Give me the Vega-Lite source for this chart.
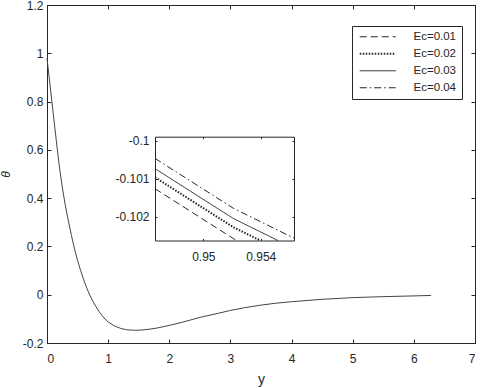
{
  "$schema": "https://vega.github.io/schema/vega-lite/v6.json",
  "width": 428,
  "height": 338,
  "autosize": {"type": "none"},
  "padding": {"left": 47, "top": 5, "right": 5, "bottom": 45},
  "background": "white",
  "config": {
    "font": "Liberation Sans",
    "view": {"stroke": "#262626", "strokeWidth": 1},
    "axis": {
      "grid": false,
      "labelFont": "Liberation Sans",
      "labelFontSize": 12,
      "labelColor": "#262626",
      "domainColor": "#262626",
      "tickColor": "#262626",
      "domainWidth": 1,
      "tickWidth": 1,
      "titleFont": "Liberation Sans",
      "titleFontWeight": "normal",
      "titleColor": "#262626"
    },
    "legend": {"labelFont": "Liberation Sans"}
  },
  "datasets": {
    "main": [
      {"y": 0, "theta": 0.98}, {"y": 0.04, "theta": 0.89}, {"y": 0.08, "theta": 0.8},
      {"y": 0.12, "theta": 0.71}, {"y": 0.16, "theta": 0.62}, {"y": 0.2, "theta": 0.535},
      {"y": 0.25, "theta": 0.445}, {"y": 0.3, "theta": 0.37}, {"y": 0.35, "theta": 0.305},
      {"y": 0.4, "theta": 0.245}, {"y": 0.45, "theta": 0.19}, {"y": 0.5, "theta": 0.142},
      {"y": 0.55, "theta": 0.1}, {"y": 0.6, "theta": 0.062}, {"y": 0.65, "theta": 0.028},
      {"y": 0.7, "theta": -0.002}, {"y": 0.75, "theta": -0.027}, {"y": 0.8, "theta": -0.049},
      {"y": 0.85, "theta": -0.069}, {"y": 0.9, "theta": -0.086}, {"y": 0.95, "theta": -0.101},
      {"y": 1.0, "theta": -0.113}, {"y": 1.1, "theta": -0.129}, {"y": 1.2, "theta": -0.139},
      {"y": 1.3, "theta": -0.145}, {"y": 1.4, "theta": -0.147}, {"y": 1.5, "theta": -0.147},
      {"y": 1.6, "theta": -0.145}, {"y": 1.7, "theta": -0.142}, {"y": 1.8, "theta": -0.138},
      {"y": 2.0, "theta": -0.127}, {"y": 2.2, "theta": -0.115}, {"y": 2.5, "theta": -0.094},
      {"y": 2.8, "theta": -0.077}, {"y": 3.0, "theta": -0.065}, {"y": 3.25, "theta": -0.053},
      {"y": 3.5, "theta": -0.043}, {"y": 3.75, "theta": -0.035}, {"y": 4.0, "theta": -0.029},
      {"y": 4.5, "theta": -0.019}, {"y": 5.0, "theta": -0.012}, {"y": 5.5, "theta": -0.008},
      {"y": 6.0, "theta": -0.005}, {"y": 6.28, "theta": -0.003}
    ],
    "inset": [
      {"Ec": "Ec=0.01", "x": 0.94663, "theta": -0.101263},
      {"Ec": "Ec=0.01", "x": 0.95209, "theta": -0.102579},
      {"Ec": "Ec=0.01", "x": 0.95236, "theta": -0.10263},
      {"Ec": "Ec=0.02", "x": 0.94663, "theta": -0.100963},
      {"Ec": "Ec=0.02", "x": 0.95209, "theta": -0.102279},
      {"Ec": "Ec=0.02", "x": 0.95397, "theta": -0.10263},
      {"Ec": "Ec=0.03", "x": 0.94663, "theta": -0.100733},
      {"Ec": "Ec=0.03", "x": 0.95209, "theta": -0.102049},
      {"Ec": "Ec=0.03", "x": 0.9552, "theta": -0.10263},
      {"Ec": "Ec=0.04", "x": 0.94663, "theta": -0.100463},
      {"Ec": "Ec=0.04", "x": 0.95209, "theta": -0.101779},
      {"Ec": "Ec=0.04", "x": 0.95632, "theta": -0.102568}
    ]
  },
  "layer": [
    {
      "data": {"name": "main"},
      "mark": {"type": "line", "color": "#444444", "strokeWidth": 1},
      "encoding": {
        "x": {
          "field": "y", "type": "quantitative",
          "scale": {"domain": [0, 7], "nice": false, "zero": false},
          "axis": {
            "orient": "bottom", "values": [0, 1, 2, 3, 4, 5, 6, 7], "format": "d",
            "tickSize": -4, "labelPadding": 14, "title": "y", "titleFontSize": 14, "titlePadding": 8
          }
        },
        "y": {
          "field": "theta", "type": "quantitative",
          "scale": {"domain": [-0.2, 1.2], "nice": false, "zero": false},
          "axis": {
            "orient": "left", "values": [-0.2, 0, 0.2, 0.4, 0.6, 0.8, 1, 1.2],
            "labelExpr": "datum.value == 0 ? '0' : replace(format(datum.value, '.1~f'), '−', '-')",
            "tickSize": -4, "labelPadding": 8, "title": "θ", "titleFontSize": 12,
            "titleFontStyle": "italic", "titlePadding": 10
          }
        }
      }
    },
    {
      "data": {"name": "main"},
      "mark": {"type": "line", "opacity": 0},
      "encoding": {
        "x": {
          "field": "y", "type": "quantitative",
          "scale": {"domain": [0, 7], "nice": false, "zero": false},
          "axis": {"orient": "top", "values": [0, 1, 2, 3, 4, 5, 6, 7], "labels": false, "tickSize": -4, "domain": false, "title": null}
        },
        "y": {
          "field": "theta", "type": "quantitative",
          "scale": {"domain": [-0.2, 1.2], "nice": false, "zero": false},
          "axis": {"orient": "right", "values": [-0.2, 0, 0.2, 0.4, 0.6, 0.8, 1, 1.2], "labels": false, "tickSize": -4, "domain": false, "title": null}
        }
      }
    },
    {
      "data": {"name": "inset"},
      "mark": {"type": "line", "opacity": 0},
      "encoding": {
        "x": {
          "field": "x", "type": "quantitative",
          "scale": {"domain": [0.94663, 0.95632], "range": [108, 247], "nice": false, "zero": false},
          "axis": {"orient": "top", "offset": -131.7, "values": [0.95, 0.954], "labels": false, "tickSize": -2, "title": null}
        },
        "y": {
          "field": "theta", "type": "quantitative",
          "scale": {"domain": [-0.10263, -0.09989], "range": [235.5, 131.7], "nice": false, "zero": false},
          "axis": {"orient": "right", "offset": -181, "values": [-0.1, -0.101, -0.102], "labels": false, "tickSize": -2, "title": null}
        }
      }
    },
    {
      "data": {"name": "inset"},
      "mark": {"type": "line", "color": "#262626"},
      "encoding": {
        "x": {
          "field": "x", "type": "quantitative",
          "scale": {"domain": [0.94663, 0.95632], "range": [108, 247], "nice": false, "zero": false},
          "axis": {
            "orient": "bottom", "offset": -102.5, "values": [0.95, 0.954],
            "labelExpr": "format(datum.value, '.3~f')",
            "tickSize": -2, "labelPadding": 13, "title": null
          }
        },
        "y": {
          "field": "theta", "type": "quantitative",
          "scale": {"domain": [-0.10263, -0.09989], "range": [235.5, 131.7], "nice": false, "zero": false},
          "axis": {
            "orient": "left", "offset": -108, "values": [-0.1, -0.101, -0.102],
            "labelExpr": "replace(format(datum.value, '.3~f'), '−', '-')",
            "tickSize": -2, "labelPadding": 8, "title": null
          }
        },
        "strokeDash": {
          "field": "Ec", "type": "nominal",
          "scale": {
            "domain": ["Ec=0.01", "Ec=0.02", "Ec=0.03", "Ec=0.04"],
            "range": [[7, 4], [1.5, 1.5], [1, 0], [7, 3, 1.5, 3]]
          },
          "legend": {
            "orient": "none", "legendX": 305, "legendY": 21, "title": null,
            "symbolType": "M-1,0H11", "symbolSize": 36, "symbolStrokeWidth": 1.2,
            "symbolFillColor": "transparent",
            "symbolStrokeColor": "#262626", "labelFontSize": 11.5, "labelColor": "#262626",
            "strokeColor": "#262626", "fillColor": "white", "padding": 5, "rowPadding": 4, "labelOffset": 45
          }
        },
        "strokeWidth": {
          "field": "Ec", "type": "nominal",
          "scale": {"type": "ordinal", "domain": ["Ec=0.01", "Ec=0.02", "Ec=0.03", "Ec=0.04"], "range": [1, 2, 1, 1]},
          "legend": null
        }
      }
    }
  ],
  "resolve": {
    "scale": {"x": "independent", "y": "independent"},
    "axis": {"x": "independent", "y": "independent"}
  }
}
